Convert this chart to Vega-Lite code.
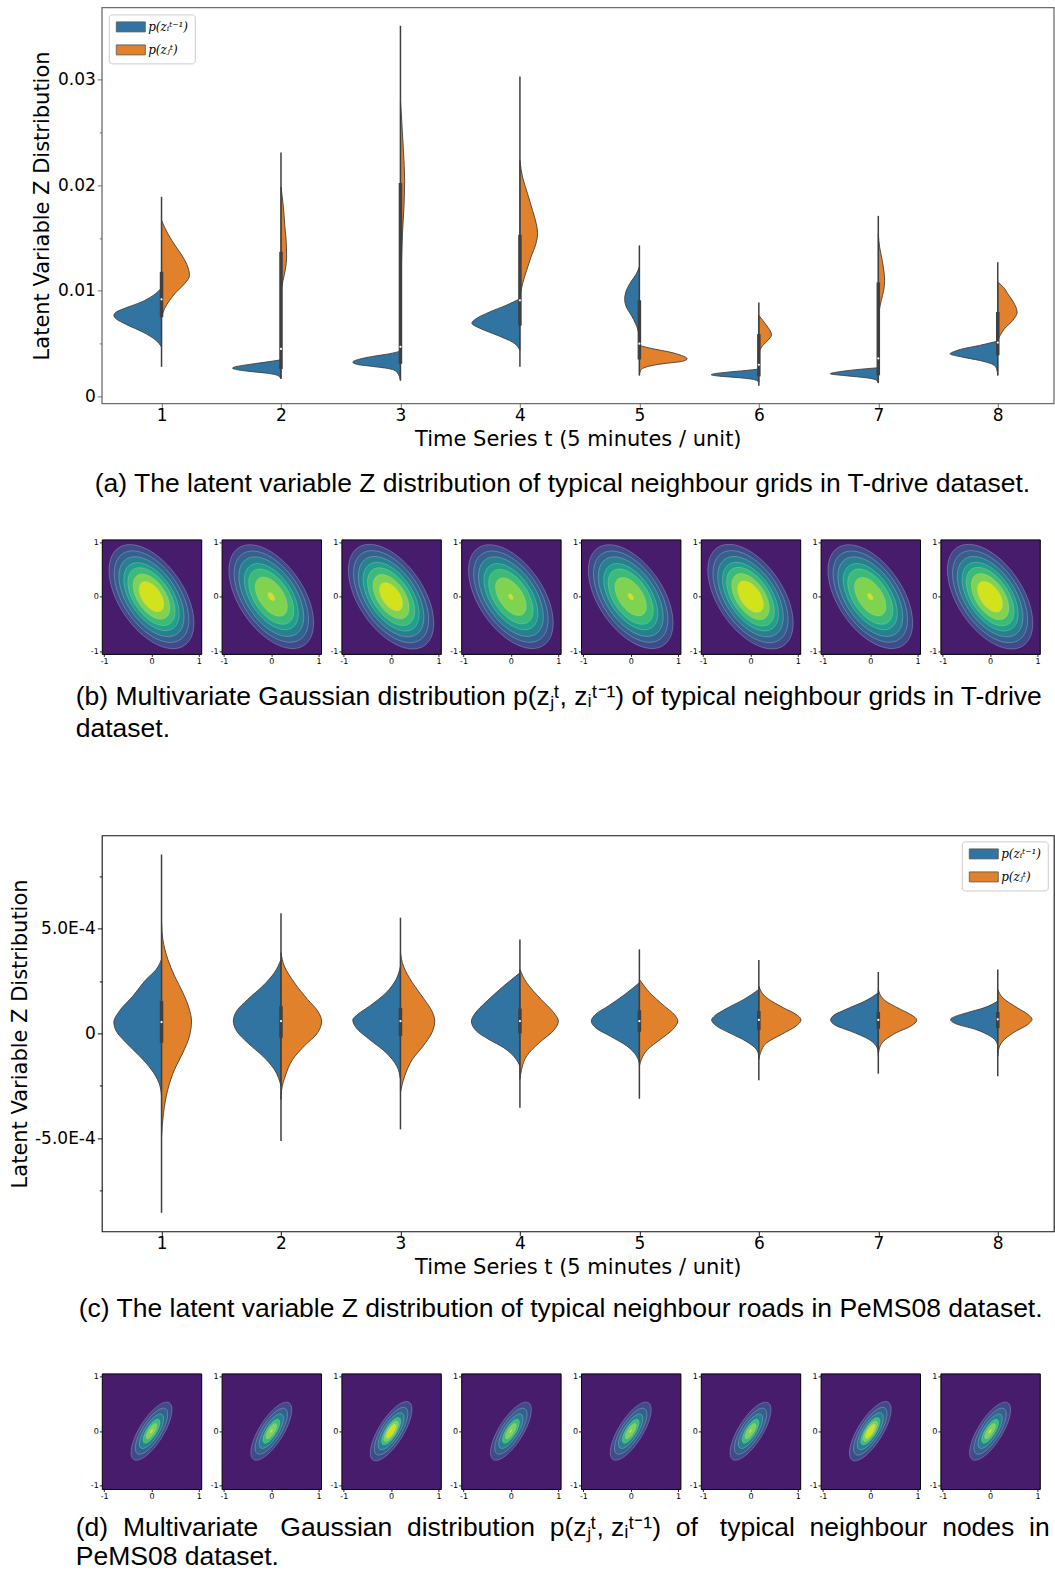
{
"$schema": "https://vega.github.io/schema/vega-lite/v6.json",
"background": "white",
"padding": {"left": 8.8, "top": 6.4, "right": 0, "bottom": 0},
"spacing": 0,
"bounds": "flush",
"config": {
  "view": {"stroke": null},
  "font": "DejaVu Sans",
  "axis": {"grid": false, "domain": false, "labelColor": "black", "titleColor": "black", "tickColor": "#222", "labelFont": "DejaVu Sans", "titleFont": "DejaVu Sans", "titleFontWeight": "normal"}
},
"resolve": {
  "scale": {"x": "independent", "y": "independent", "color": "independent", "fill": "independent", "size": "independent"},
  "axis": {"x": "independent", "y": "independent"},
  "legend": {"color": "independent"}
},
"datasets": {
  "va": [
    {"t":1,"s":"i","z":0.0103,"e":1},{"t":1,"s":"i","z":0.00956,"e":0.93},{"t":1,"s":"i","z":0.00893,"e":0.83},{"t":1,"s":"i","z":0.00846,"e":0.72},{"t":1,"s":"i","z":0.00798,"e":0.62},{"t":1,"s":"i","z":0.00767,"e":0.601},{"t":1,"s":"i","z":0.00735,"e":0.62},{"t":1,"s":"i","z":0.00682,"e":0.704},{"t":1,"s":"i","z":0.00609,"e":0.844},{"t":1,"s":"i","z":0.0053,"e":0.955},{"t":1,"s":"i","z":0.00467,"e":1},
    {"t":1,"s":"j","z":0.01667,"e":1},{"t":1,"s":"j","z":0.0154,"e":1.053},{"t":1,"s":"j","z":0.01414,"e":1.123},{"t":1,"s":"j","z":0.01319,"e":1.18},{"t":1,"s":"j","z":0.01225,"e":1.22},{"t":1,"s":"j","z":0.01146,"e":1.234},{"t":1,"s":"j","z":0.01067,"e":1.193},{"t":1,"s":"j","z":0.00988,"e":1.123},{"t":1,"s":"j","z":0.00909,"e":1.067},{"t":1,"s":"j","z":0.0083,"e":1.025},{"t":1,"s":"j","z":0.0075,"e":1},
    {"t":2,"s":"i","z":0.00347,"e":2},{"t":2,"s":"i","z":0.00325,"e":1.874},{"t":2,"s":"i","z":0.00303,"e":1.735},{"t":2,"s":"i","z":0.00278,"e":1.61},{"t":2,"s":"i","z":0.00268,"e":1.595},{"t":2,"s":"i","z":0.00259,"e":1.61},{"t":2,"s":"i","z":0.00237,"e":1.735},{"t":2,"s":"i","z":0.00221,"e":1.874},{"t":2,"s":"i","z":0.00199,"e":1.972},{"t":2,"s":"i","z":0.00167,"e":2},
    {"t":2,"s":"j","z":0.01982,"e":2},{"t":2,"s":"j","z":0.01793,"e":2.02},{"t":2,"s":"j","z":0.01603,"e":2.033},{"t":2,"s":"j","z":0.01446,"e":2.045},{"t":2,"s":"j","z":0.01319,"e":2.047},{"t":2,"s":"j","z":0.01193,"e":2.035},{"t":2,"s":"j","z":0.01098,"e":2.017},{"t":2,"s":"j","z":0.01004,"e":2},
    {"t":3,"s":"i","z":0.00429,"e":3},{"t":3,"s":"i","z":0.00404,"e":2.908},{"t":3,"s":"i","z":0.00379,"e":2.768},{"t":3,"s":"i","z":0.00353,"e":2.657},{"t":3,"s":"i","z":0.00325,"e":2.601},{"t":3,"s":"i","z":0.00303,"e":2.64},{"t":3,"s":"i","z":0.00284,"e":2.768},{"t":3,"s":"i","z":0.00262,"e":2.908},{"t":3,"s":"i","z":0.0023,"e":2.97},{"t":3,"s":"i","z":0.00152,"e":3},
    {"t":3,"s":"j","z":0.02803,"e":3},{"t":3,"s":"j","z":0.02585,"e":3.012},{"t":3,"s":"j","z":0.0233,"e":3.025},{"t":3,"s":"j","z":0.02045,"e":3.035},{"t":3,"s":"j","z":0.01809,"e":3.03},{"t":3,"s":"j","z":0.01544,"e":3.017},{"t":3,"s":"j","z":0.01193,"e":3.007},{"t":3,"s":"j","z":0.0072,"e":3.003},{"t":3,"s":"j","z":0.00436,"e":3},
    {"t":4,"s":"i","z":0.00925,"e":4},{"t":4,"s":"i","z":0.00862,"e":3.883},{"t":4,"s":"i","z":0.00798,"e":3.743},{"t":4,"s":"i","z":0.00735,"e":3.632},{"t":4,"s":"i","z":0.00694,"e":3.598},{"t":4,"s":"i","z":0.00641,"e":3.674},{"t":4,"s":"i","z":0.00578,"e":3.813},{"t":4,"s":"i","z":0.00514,"e":3.939},{"t":4,"s":"i","z":0.00436,"e":4},
    {"t":4,"s":"j","z":0.02235,"e":4},{"t":4,"s":"j","z":0.02077,"e":4.022},{"t":4,"s":"j","z":0.0192,"e":4.064},{"t":4,"s":"j","z":0.01761,"e":4.106},{"t":4,"s":"j","z":0.01635,"e":4.137},{"t":4,"s":"j","z":0.01541,"e":4.148},{"t":4,"s":"j","z":0.01446,"e":4.134},{"t":4,"s":"j","z":0.01319,"e":4.092},{"t":4,"s":"j","z":0.01193,"e":4.056},{"t":4,"s":"j","z":0.01067,"e":4.022},{"t":4,"s":"j","z":0.0094,"e":4},
    {"t":5,"s":"i","z":0.01225,"e":5},{"t":5,"s":"i","z":0.01162,"e":4.975},{"t":5,"s":"i","z":0.01067,"e":4.919},{"t":5,"s":"i","z":0.00988,"e":4.886},{"t":5,"s":"i","z":0.00919,"e":4.877},{"t":5,"s":"i","z":0.00846,"e":4.891},{"t":5,"s":"i","z":0.00767,"e":4.933},{"t":5,"s":"i","z":0.00688,"e":4.969},{"t":5,"s":"i","z":0.00593,"e":4.995},{"t":5,"s":"i","z":0.005,"e":5},
    {"t":5,"s":"j","z":0.00483,"e":5},{"t":5,"s":"j","z":0.00451,"e":5.114},{"t":5,"s":"j","z":0.0042,"e":5.254},{"t":5,"s":"j","z":0.00388,"e":5.352},{"t":5,"s":"j","z":0.00357,"e":5.4},{"t":5,"s":"j","z":0.00331,"e":5.352},{"t":5,"s":"j","z":0.0031,"e":5.198},{"t":5,"s":"j","z":0.00284,"e":5.073},{"t":5,"s":"j","z":0.00246,"e":5.01},{"t":5,"s":"j","z":0.00199,"e":5},
    {"t":6,"s":"i","z":0.00259,"e":6},{"t":6,"s":"i","z":0.00246,"e":5.894},{"t":6,"s":"i","z":0.0023,"e":5.74},{"t":6,"s":"i","z":0.00215,"e":5.629},{"t":6,"s":"i","z":0.00205,"e":5.601},{"t":6,"s":"i","z":0.00192,"e":5.67},{"t":6,"s":"i","z":0.00177,"e":5.838},{"t":6,"s":"i","z":0.00158,"e":5.964},{"t":6,"s":"i","z":0.00135,"e":6},
    {"t":6,"s":"j","z":0.00767,"e":6},{"t":6,"s":"j","z":0.0072,"e":6.033},{"t":6,"s":"j","z":0.00656,"e":6.075},{"t":6,"s":"j","z":0.00584,"e":6.106},{"t":6,"s":"j","z":0.0053,"e":6.075},{"t":6,"s":"j","z":0.00483,"e":6.033},{"t":6,"s":"j","z":0.00436,"e":6.008},{"t":6,"s":"j","z":0.00404,"e":6},
    {"t":7,"s":"i","z":0.00272,"e":7},{"t":7,"s":"i","z":0.00253,"e":6.813},{"t":7,"s":"i","z":0.00234,"e":6.674},{"t":7,"s":"i","z":0.00215,"e":6.598},{"t":7,"s":"i","z":0.00196,"e":6.73},{"t":7,"s":"i","z":0.00177,"e":6.897},{"t":7,"s":"i","z":0.00152,"e":6.986},{"t":7,"s":"i","z":0.00126,"e":7},
    {"t":7,"s":"j","z":0.01541,"e":7},{"t":7,"s":"j","z":0.01414,"e":7.011},{"t":7,"s":"j","z":0.01288,"e":7.033},{"t":7,"s":"j","z":0.01177,"e":7.048},{"t":7,"s":"j","z":0.01098,"e":7.053},{"t":7,"s":"j","z":0.01004,"e":7.045},{"t":7,"s":"j","z":0.00909,"e":7.025},{"t":7,"s":"j","z":0.00814,"e":7.008},{"t":7,"s":"j","z":0.0072,"e":7},
    {"t":8,"s":"i","z":0.00524,"e":8},{"t":8,"s":"i","z":0.00483,"e":7.847},{"t":8,"s":"i","z":0.00451,"e":7.707},{"t":8,"s":"i","z":0.00426,"e":7.637},{"t":8,"s":"i","z":0.00404,"e":7.601},{"t":8,"s":"i","z":0.00372,"e":7.707},{"t":8,"s":"i","z":0.00341,"e":7.847},{"t":8,"s":"i","z":0.00303,"e":7.958},{"t":8,"s":"i","z":0.00262,"e":7.99},{"t":8,"s":"i","z":0.00199,"e":8},
    {"t":8,"s":"j","z":0.01082,"e":8},{"t":8,"s":"j","z":0.01035,"e":8.047},{"t":8,"s":"j","z":0.00972,"e":8.084},{"t":8,"s":"j","z":0.00893,"e":8.131},{"t":8,"s":"j","z":0.00798,"e":8.162},{"t":8,"s":"j","z":0.0072,"e":8.126},{"t":8,"s":"j","z":0.00641,"e":8.056},{"t":8,"s":"j","z":0.00578,"e":8.02},{"t":8,"s":"j","z":0.0053,"e":8}
  ],
  "ba": [
    {"t":1,"lo":0.0028,"hi":0.0189,"q1":0.0075,"q3":0.0118,"md":0.0092},
    {"t":2,"lo":0.0017,"hi":0.0231,"q1":0.0026,"q3":0.0137,"md":0.0045},
    {"t":3,"lo":0.0015,"hi":0.0351,"q1":0.0031,"q3":0.0202,"md":0.0047},
    {"t":4,"lo":0.0028,"hi":0.0303,"q1":0.0067,"q3":0.0153,"md":0.0091},
    {"t":5,"lo":0.002,"hi":0.0143,"q1":0.0035,"q3":0.0091,"md":0.005},
    {"t":6,"lo":0.001,"hi":0.0089,"q1":0.0019,"q3":0.0059,"md":0.003},
    {"t":7,"lo":0.0013,"hi":0.0171,"q1":0.002,"q3":0.0108,"md":0.0036},
    {"t":8,"lo":0.002,"hi":0.0127,"q1":0.0039,"q3":0.008,"md":0.0051}
  ],
  "vc": [
    {"t":1,"s":"i","z":0.000353,"e":1},{"t":1,"s":"i","z":0.000305,"e":0.955},{"t":1,"s":"i","z":0.000258,"e":0.872},{"t":1,"s":"i","z":0.000178,"e":0.76},{"t":1,"s":"i","z":0.000107,"e":0.648},{"t":1,"s":"i","z":0.000054,"e":0.601},{"t":1,"s":"i","z":0.000011,"e":0.621},{"t":1,"s":"i","z":-0.000045,"e":0.704},{"t":1,"s":"i","z":-0.000108,"e":0.816},{"t":1,"s":"i","z":-0.000172,"e":0.914},{"t":1,"s":"i","z":-0.000235,"e":0.978},{"t":1,"s":"i","z":-0.000299,"e":1},
    {"t":1,"s":"j","z":0.000528,"e":1},{"t":1,"s":"j","z":0.000448,"e":1.011},{"t":1,"s":"j","z":0.000353,"e":1.053},{"t":1,"s":"j","z":0.000274,"e":1.109},{"t":1,"s":"j","z":0.000194,"e":1.179},{"t":1,"s":"j","z":0.000122,"e":1.229},{"t":1,"s":"j","z":0.000059,"e":1.251},{"t":1,"s":"j","z":-0.000013,"e":1.234},{"t":1,"s":"j","z":-0.000092,"e":1.179},{"t":1,"s":"j","z":-0.000172,"e":1.109},{"t":1,"s":"j","z":-0.000267,"e":1.053},{"t":1,"s":"j","z":-0.000378,"e":1.017},{"t":1,"s":"j","z":-0.00049,"e":1},
    {"t":2,"s":"i","z":0.000353,"e":2},{"t":2,"s":"i","z":0.000289,"e":1.944},{"t":2,"s":"i","z":0.000226,"e":1.847},{"t":2,"s":"i","z":0.000162,"e":1.721},{"t":2,"s":"i","z":0.000107,"e":1.629},{"t":2,"s":"i","z":0.000059,"e":1.601},{"t":2,"s":"i","z":0.000011,"e":1.629},{"t":2,"s":"i","z":-0.000045,"e":1.721},{"t":2,"s":"i","z":-0.000108,"e":1.847},{"t":2,"s":"i","z":-0.000172,"e":1.944},{"t":2,"s":"i","z":-0.000251,"e":2},
    {"t":2,"s":"j","z":0.000385,"e":2},{"t":2,"s":"j","z":0.000321,"e":2.028},{"t":2,"s":"j","z":0.000242,"e":2.112},{"t":2,"s":"j","z":0.000162,"e":2.223},{"t":2,"s":"j","z":0.000107,"e":2.307},{"t":2,"s":"j","z":0.000059,"e":2.34},{"t":2,"s":"j","z":0.000003,"e":2.307},{"t":2,"s":"j","z":-0.00006,"e":2.195},{"t":2,"s":"j","z":-0.000124,"e":2.098},{"t":2,"s":"j","z":-0.000204,"e":2.036},{"t":2,"s":"j","z":-0.000267,"e":2.006},{"t":2,"s":"j","z":-0.000315,"e":2},
    {"t":3,"s":"i","z":0.000321,"e":3},{"t":3,"s":"i","z":0.000258,"e":2.964},{"t":3,"s":"i","z":0.000194,"e":2.88},{"t":3,"s":"i","z":0.00013,"e":2.741},{"t":3,"s":"i","z":0.000091,"e":2.643},{"t":3,"s":"i","z":0.000064,"e":2.601},{"t":3,"s":"i","z":0.000027,"e":2.629},{"t":3,"s":"i","z":-0.000029,"e":2.741},{"t":3,"s":"i","z":-0.000092,"e":2.88},{"t":3,"s":"i","z":-0.000156,"e":2.969},{"t":3,"s":"i","z":-0.000219,"e":3},
    {"t":3,"s":"j","z":0.000385,"e":3},{"t":3,"s":"j","z":0.000321,"e":3.025},{"t":3,"s":"j","z":0.000242,"e":3.1},{"t":3,"s":"j","z":0.000162,"e":3.2},{"t":3,"s":"j","z":0.000107,"e":3.263},{"t":3,"s":"j","z":0.000059,"e":3.287},{"t":3,"s":"j","z":0.000003,"e":3.263},{"t":3,"s":"j","z":-0.00006,"e":3.19},{"t":3,"s":"j","z":-0.000124,"e":3.1},{"t":3,"s":"j","z":-0.000204,"e":3.035},{"t":3,"s":"j","z":-0.000283,"e":3},
    {"t":4,"s":"i","z":0.000289,"e":4},{"t":4,"s":"i","z":0.000226,"e":3.864},{"t":4,"s":"i","z":0.000154,"e":3.724},{"t":4,"s":"i","z":0.000091,"e":3.619},{"t":4,"s":"i","z":0.000059,"e":3.594},{"t":4,"s":"i","z":0.000011,"e":3.636},{"t":4,"s":"i","z":-0.000029,"e":3.741},{"t":4,"s":"i","z":-0.000068,"e":3.864},{"t":4,"s":"i","z":-0.000124,"e":3.969},{"t":4,"s":"i","z":-0.000156,"e":4},
    {"t":4,"s":"j","z":0.000305,"e":4},{"t":4,"s":"j","z":0.000242,"e":4.056},{"t":4,"s":"j","z":0.000162,"e":4.178},{"t":4,"s":"j","z":0.000099,"e":4.283},{"t":4,"s":"j","z":0.000059,"e":4.322},{"t":4,"s":"j","z":0.000019,"e":4.29},{"t":4,"s":"j","z":-0.000045,"e":4.161},{"t":4,"s":"j","z":-0.000108,"e":4.056},{"t":4,"s":"j","z":-0.000172,"e":4.014},{"t":4,"s":"j","z":-0.000219,"e":4},
    {"t":5,"s":"i","z":0.000242,"e":5},{"t":5,"s":"i","z":0.000186,"e":4.878},{"t":5,"s":"i","z":0.00013,"e":4.738},{"t":5,"s":"i","z":0.000091,"e":4.633},{"t":5,"s":"i","z":0.000059,"e":4.598},{"t":5,"s":"i","z":0.000027,"e":4.633},{"t":5,"s":"i","z":-0.000013,"e":4.755},{"t":5,"s":"i","z":-0.00006,"e":4.895},{"t":5,"s":"i","z":-0.000108,"e":4.976},{"t":5,"s":"i","z":-0.00014,"e":5},
    {"t":5,"s":"j","z":0.000258,"e":5},{"t":5,"s":"j","z":0.000194,"e":5.087},{"t":5,"s":"j","z":0.00013,"e":5.21},{"t":5,"s":"j","z":0.000091,"e":5.29},{"t":5,"s":"j","z":0.000059,"e":5.322},{"t":5,"s":"j","z":0.000019,"e":5.28},{"t":5,"s":"j","z":-0.000029,"e":5.175},{"t":5,"s":"j","z":-0.000076,"e":5.07},{"t":5,"s":"j","z":-0.000124,"e":5.017},{"t":5,"s":"j","z":-0.000156,"e":5},
    {"t":6,"s":"i","z":0.00021,"e":6},{"t":6,"s":"i","z":0.000162,"e":5.874},{"t":6,"s":"i","z":0.000115,"e":5.717},{"t":6,"s":"i","z":0.000083,"e":5.629},{"t":6,"s":"i","z":0.000064,"e":5.605},{"t":6,"s":"i","z":0.000035,"e":5.647},{"t":6,"s":"i","z":0.000003,"e":5.752},{"t":6,"s":"i","z":-0.000037,"e":5.892},{"t":6,"s":"i","z":-0.000076,"e":5.979},{"t":6,"s":"i","z":-0.000108,"e":6},
    {"t":6,"s":"j","z":0.000226,"e":6},{"t":6,"s":"j","z":0.000178,"e":6.049},{"t":6,"s":"j","z":0.000122,"e":6.206},{"t":6,"s":"j","z":0.000091,"e":6.311},{"t":6,"s":"j","z":0.000064,"e":6.353},{"t":6,"s":"j","z":0.000035,"e":6.311},{"t":6,"s":"j","z":-0.000005,"e":6.189},{"t":6,"s":"j","z":-0.000045,"e":6.066},{"t":6,"s":"j","z":-0.000092,"e":6.014},{"t":6,"s":"j","z":-0.000124,"e":6},
    {"t":7,"s":"i","z":0.000194,"e":7},{"t":7,"s":"i","z":0.000154,"e":6.888},{"t":7,"s":"i","z":0.000115,"e":6.731},{"t":7,"s":"i","z":0.000086,"e":6.626},{"t":7,"s":"i","z":0.000064,"e":6.601},{"t":7,"s":"i","z":0.000038,"e":6.643},{"t":7,"s":"i","z":0.000011,"e":6.766},{"t":7,"s":"i","z":-0.000029,"e":6.923},{"t":7,"s":"i","z":-0.000068,"e":6.99},{"t":7,"s":"i","z":-0.000092,"e":7},
    {"t":7,"s":"j","z":0.00021,"e":7},{"t":7,"s":"j","z":0.000162,"e":7.045},{"t":7,"s":"j","z":0.000115,"e":7.185},{"t":7,"s":"j","z":0.000086,"e":7.283},{"t":7,"s":"j","z":0.000064,"e":7.322},{"t":7,"s":"j","z":0.000035,"e":7.273},{"t":7,"s":"j","z":0.000003,"e":7.15},{"t":7,"s":"j","z":-0.000037,"e":7.045},{"t":7,"s":"j","z":-0.000076,"e":7.007},{"t":7,"s":"j","z":-0.000108,"e":7},
    {"t":8,"s":"i","z":0.000154,"e":8},{"t":8,"s":"i","z":0.000122,"e":7.885},{"t":8,"s":"i","z":0.000099,"e":7.745},{"t":8,"s":"i","z":0.00008,"e":7.64},{"t":8,"s":"i","z":0.000067,"e":7.605},{"t":8,"s":"i","z":0.000048,"e":7.64},{"t":8,"s":"i","z":0.000019,"e":7.815},{"t":8,"s":"i","z":-0.000013,"e":7.937},{"t":8,"s":"i","z":-0.000045,"e":7.993},{"t":8,"s":"i","z":-0.000068,"e":8},
    {"t":8,"s":"j","z":0.00021,"e":8},{"t":8,"s":"j","z":0.00017,"e":8.042},{"t":8,"s":"j","z":0.000122,"e":8.164},{"t":8,"s":"j","z":0.000091,"e":8.252},{"t":8,"s":"j","z":0.000067,"e":8.287},{"t":8,"s":"j","z":0.000043,"e":8.252},{"t":8,"s":"j","z":0.000003,"e":8.129},{"t":8,"s":"j","z":-0.000037,"e":8.042},{"t":8,"s":"j","z":-0.000076,"e":8.007},{"t":8,"s":"j","z":-0.000108,"e":8}
  ],
  "bc": [
    {"t":1,"lo":-0.000856,"hi":0.000854,"q1":-0.000045,"q3":0.000154,"md":0.000054},
    {"t":2,"lo":-0.000514,"hi":0.000573,"q1":-0.000021,"q3":0.00013,"md":0.000059},
    {"t":3,"lo":-0.000458,"hi":0.000552,"q1":-0.000013,"q3":0.000122,"md":0.000059},
    {"t":4,"lo":-0.000355,"hi":0.000448,"q1":0,"q3":0.000118,"md":0.000059},
    {"t":5,"lo":-0.000312,"hi":0.000401,"q1":0.000008,"q3":0.000111,"md":0.000059},
    {"t":6,"lo":-0.000223,"hi":0.00035,"q1":0.000016,"q3":0.000107,"md":0.000064},
    {"t":7,"lo":-0.000192,"hi":0.000293,"q1":0.000022,"q3":0.000102,"md":0.000064},
    {"t":8,"lo":-0.000204,"hi":0.000305,"q1":0.000025,"q3":0.000102,"md":0.000067}
  ],
  "gb": [
    {"p":1,"lv":1,"r":1.243,"mx":0,"my":0},{"p":1,"lv":2,"r":1.093,"mx":0,"my":0},{"p":1,"lv":3,"r":0.954,"mx":0,"my":0},{"p":1,"lv":4,"r":0.81,"mx":0,"my":0},{"p":1,"lv":5,"r":0.691,"mx":0,"my":0},{"p":1,"lv":6,"r":0.539,"mx":0,"my":0},{"p":1,"lv":7,"r":0.362,"mx":0,"my":0},
    {"p":2,"lv":1,"r":1.24,"mx":0,"my":0},{"p":2,"lv":2,"r":1.09,"mx":0,"my":0},{"p":2,"lv":3,"r":0.95,"mx":0,"my":0},{"p":2,"lv":4,"r":0.79,"mx":0,"my":0},{"p":2,"lv":5,"r":0.66,"mx":0,"my":0},{"p":2,"lv":6,"r":0.47,"mx":0,"my":0},{"p":2,"lv":7,"r":0.1,"mx":0,"my":0},
    {"p":3,"lv":1,"r":1.25,"mx":0,"my":0},{"p":3,"lv":2,"r":1.1,"mx":0,"my":0},{"p":3,"lv":3,"r":0.96,"mx":0,"my":0},{"p":3,"lv":4,"r":0.82,"mx":0,"my":0},{"p":3,"lv":5,"r":0.69,"mx":0,"my":0},{"p":3,"lv":6,"r":0.53,"mx":0,"my":0},{"p":3,"lv":7,"r":0.34,"mx":0,"my":0},
    {"p":4,"lv":1,"r":1.24,"mx":0,"my":0},{"p":4,"lv":2,"r":1.09,"mx":0,"my":0},{"p":4,"lv":3,"r":0.95,"mx":0,"my":0},{"p":4,"lv":4,"r":0.79,"mx":0,"my":0},{"p":4,"lv":5,"r":0.65,"mx":0,"my":0},{"p":4,"lv":6,"r":0.45,"mx":0,"my":0},{"p":4,"lv":7,"r":0.07,"mx":0,"my":0},
    {"p":5,"lv":1,"r":1.24,"mx":0,"my":0},{"p":5,"lv":2,"r":1.09,"mx":0,"my":0},{"p":5,"lv":3,"r":0.95,"mx":0,"my":0},{"p":5,"lv":4,"r":0.79,"mx":0,"my":0},{"p":5,"lv":5,"r":0.66,"mx":0,"my":0},{"p":5,"lv":6,"r":0.46,"mx":0,"my":0},{"p":5,"lv":7,"r":0.08,"mx":0,"my":0},
    {"p":6,"lv":1,"r":1.25,"mx":0,"my":0},{"p":6,"lv":2,"r":1.1,"mx":0,"my":0},{"p":6,"lv":3,"r":0.96,"mx":0,"my":0},{"p":6,"lv":4,"r":0.82,"mx":0,"my":0},{"p":6,"lv":5,"r":0.7,"mx":0,"my":0},{"p":6,"lv":6,"r":0.55,"mx":0,"my":0},{"p":6,"lv":7,"r":0.38,"mx":0,"my":0},
    {"p":7,"lv":1,"r":1.24,"mx":0,"my":0},{"p":7,"lv":2,"r":1.09,"mx":0,"my":0},{"p":7,"lv":3,"r":0.95,"mx":0,"my":0},{"p":7,"lv":4,"r":0.79,"mx":0,"my":0},{"p":7,"lv":5,"r":0.66,"mx":0,"my":0},{"p":7,"lv":6,"r":0.46,"mx":0,"my":0},{"p":7,"lv":7,"r":0.08,"mx":0,"my":0},
    {"p":8,"lv":1,"r":1.25,"mx":0,"my":0},{"p":8,"lv":2,"r":1.1,"mx":0,"my":0},{"p":8,"lv":3,"r":0.96,"mx":0,"my":0},{"p":8,"lv":4,"r":0.82,"mx":0,"my":0},{"p":8,"lv":5,"r":0.7,"mx":0,"my":0},{"p":8,"lv":6,"r":0.55,"mx":0,"my":0},{"p":8,"lv":7,"r":0.37,"mx":0,"my":0}
  ],
  "gd": [
    {"p":1,"lv":1,"r":0.706,"mx":0,"my":0},{"p":1,"lv":2,"r":0.56,"mx":0,"my":0},{"p":1,"lv":3,"r":0.42,"mx":0,"my":0},{"p":1,"lv":5,"r":0.29,"mx":0,"my":0},{"p":1,"lv":6,"r":0.186,"mx":0,"my":0},{"p":1,"lv":7,"r":0.05,"mx":0,"my":0},
    {"p":2,"lv":1,"r":0.706,"mx":0,"my":0},{"p":2,"lv":2,"r":0.56,"mx":0,"my":0},{"p":2,"lv":3,"r":0.42,"mx":0,"my":0},{"p":2,"lv":5,"r":0.29,"mx":0,"my":0},{"p":2,"lv":6,"r":0.186,"mx":0,"my":0},{"p":2,"lv":7,"r":0.04,"mx":0,"my":0},
    {"p":3,"lv":1,"r":0.72,"mx":0,"my":0},{"p":3,"lv":2,"r":0.58,"mx":0,"my":0},{"p":3,"lv":3,"r":0.45,"mx":0,"my":0},{"p":3,"lv":5,"r":0.33,"mx":0,"my":0},{"p":3,"lv":6,"r":0.25,"mx":0,"my":0},{"p":3,"lv":7,"r":0.17,"mx":0,"my":0},
    {"p":4,"lv":1,"r":0.706,"mx":0,"my":0},{"p":4,"lv":2,"r":0.56,"mx":0,"my":0},{"p":4,"lv":3,"r":0.42,"mx":0,"my":0},{"p":4,"lv":5,"r":0.29,"mx":0,"my":0},{"p":4,"lv":6,"r":0.186,"mx":0,"my":0},{"p":4,"lv":7,"r":0.04,"mx":0,"my":0},
    {"p":5,"lv":1,"r":0.706,"mx":0,"my":0},{"p":5,"lv":2,"r":0.56,"mx":0,"my":0},{"p":5,"lv":3,"r":0.42,"mx":0,"my":0},{"p":5,"lv":5,"r":0.29,"mx":0,"my":0},{"p":5,"lv":6,"r":0.186,"mx":0,"my":0},{"p":5,"lv":7,"r":0.04,"mx":0,"my":0},
    {"p":6,"lv":1,"r":0.706,"mx":0,"my":0},{"p":6,"lv":2,"r":0.56,"mx":0,"my":0},{"p":6,"lv":3,"r":0.42,"mx":0,"my":0},{"p":6,"lv":5,"r":0.29,"mx":0,"my":0},{"p":6,"lv":6,"r":0.186,"mx":0,"my":0},{"p":6,"lv":7,"r":0.04,"mx":0,"my":0},
    {"p":7,"lv":1,"r":0.72,"mx":0,"my":0},{"p":7,"lv":2,"r":0.58,"mx":0,"my":0},{"p":7,"lv":3,"r":0.45,"mx":0,"my":0},{"p":7,"lv":5,"r":0.33,"mx":0,"my":0},{"p":7,"lv":6,"r":0.25,"mx":0,"my":0},{"p":7,"lv":7,"r":0.17,"mx":0,"my":0},
    {"p":8,"lv":1,"r":0.706,"mx":0,"my":0},{"p":8,"lv":2,"r":0.56,"mx":0,"my":0},{"p":8,"lv":3,"r":0.42,"mx":0,"my":0},{"p":8,"lv":5,"r":0.29,"mx":0,"my":0},{"p":8,"lv":6,"r":0.186,"mx":0,"my":0},{"p":8,"lv":7,"r":0.05,"mx":0,"my":0}
  ]
},
"vconcat": [
  {
    "width": 952, "height": 396,
    "view": {"stroke": "#6e6e6e", "strokeWidth": 1.3},
    "title": {"text": "(a) The latent variable Z distribution of typical neighbour grids in T-drive dataset.", "orient": "bottom", "anchor": "start", "frame": "group", "offset": 43, "dx": -7, "baseline": "alphabetic", "font": "Liberation Sans", "fontSize": 26.5, "fontWeight": "normal", "color": "black"},
    "layer": [
      {
        "data": {"name": "va"},
        "mark": {"type": "area", "orient": "horizontal", "interpolate": "monotone", "stroke": "#3f3f3f", "strokeWidth": 0.9, "fillOpacity": 1},
        "encoding": {
          "y": {"field": "z", "type": "quantitative", "title": "Latent Variable Z Distribution",
                "scale": {"domain": [-0.00066, 0.03684], "nice": false, "zero": false},
                "axis": {"values": [0, 0.005, 0.01, 0.015, 0.02, 0.025, 0.03],
                         "labelExpr": "round(datum.value*1000) % 10 != 0 ? '' : (datum.value == 0 ? '0' : format(datum.value, '.2f'))",
                         "tickSize": {"condition": {"test": "round(datum.value*1000) % 10 != 0", "value": 2.5}, "value": 4.5},
                         "labelFontSize": 17, "labelPadding": 2, "titleFontSize": 21, "titlePadding": 4.5, "tickColor": "#6e6e6e"}},
          "x": {"field": "e", "type": "quantitative", "title": "Time Series t (5 minutes / unit)",
                "scale": {"domain": [0.5, 8.469], "nice": false, "zero": false},
                "axis": {"values": [1,2,3,4,5,6,7,8], "format": "d", "labelFontSize": 17, "titleFontSize": 21, "tickSize": 4, "labelPadding": 0.5, "titlePadding": 4.2, "tickColor": "#6e6e6e", "labelFlush": false}},
          "x2": {"field": "t"},
          "color": {"field": "s", "type": "nominal", "scale": {"domain": ["i", "j"], "range": ["#3274a1", "#e1812c"]},
                    "legend": {"orient": "top-left", "offset": 7, "title": null, "symbolType": "M-2.9,-1H2.9V1H-2.9Z", "symbolSize": 100, "symbolStrokeColor": "#555555", "symbolStrokeWidth": 0.8, "symbolOffset": 9.5, "labelOffset": 11.4, "labelFont": "DejaVu Serif", "labelFontStyle": "italic", "labelFontSize": 12, "labelColor": "black", "padding": 6.5, "rowPadding": 9, "fillColor": "white", "strokeColor": "#cccccc", "cornerRadius": 3,
                               "labelExpr": "datum.label == 'i' ? 'p(zᵢᵗ⁻¹)' : 'p(zⱼᵗ)'"}},
          "detail": {"field": "t", "type": "nominal"}
        }
      },
      {
        "data": {"name": "ba"},
        "mark": {"type": "rule", "color": "#3f3f3f", "strokeWidth": 1.5},
        "encoding": {
          "x": {"field": "t", "type": "quantitative", "title": "Time Series t (5 minutes / unit)"},
          "y": {"field": "lo", "type": "quantitative", "title": "Latent Variable Z Distribution"},
          "y2": {"field": "hi"}
        }
      },
      {
        "data": {"name": "ba"},
        "mark": {"type": "rule", "color": "#3f3f3f", "strokeWidth": 3.5},
        "encoding": {
          "x": {"field": "t", "type": "quantitative", "title": "Time Series t (5 minutes / unit)"},
          "y": {"field": "q1", "type": "quantitative", "title": "Latent Variable Z Distribution"},
          "y2": {"field": "q3"}
        }
      },
      {
        "data": {"name": "ba"},
        "mark": {"type": "point", "filled": true, "color": "white", "size": 5, "opacity": 1},
        "encoding": {
          "x": {"field": "t", "type": "quantitative", "title": "Time Series t (5 minutes / unit)"},
          "y": {"field": "md", "type": "quantitative", "title": "Latent Variable Z Distribution"}
        }
      }
    ]
  },
  {"width": 952, "height": 136, "data": {"values": []}, "mark": "point"},
  {
    "data": {"name": "gb"},
    "title": {"text": ["(b) Multivariate Gaussian distribution p(zⱼᵗ, zᵢᵗ⁻¹) of typical neighbour grids in T-drive", "dataset."], "lineHeight": 32, "orient": "bottom", "anchor": "start", "frame": "group", "offset": 39, "dx": -26, "baseline": "alphabetic", "font": "Liberation Sans", "fontSize": 26.5, "fontWeight": "normal", "color": "black"},
    "facet": {"column": {"field": "p", "type": "ordinal", "header": {"title": null, "labels": false}}},
    "spacing": 19.8,
    "bounds": "flush",
    "resolve": {"axis": {"x": "independent", "y": "independent"}},
    "spec": {
      "width": 99.4, "height": 114.5,
      "view": {"fill": "#471c6c", "stroke": "#000000", "strokeWidth": 1},
      "mark": {"type": "point", "shape": "M-1,0A1,0.55,0,1,1,1,0A1,0.55,0,1,1,-1,0Z", "angle": 56, "filled": true, "opacity": 1, "stroke": "#c8c8e6", "strokeWidth": 0.5, "strokeOpacity": 0.6, "clip": true},
      "encoding": {
        "x": {"field": "mx", "type": "quantitative", "title": null, "scale": {"domain": [-1.05, 1.05], "nice": false, "zero": false},
              "axis": {"values": [-1, 0, 1], "labelExpr": "(datum.value < 0 ? '-' : '') + format(abs(datum.value), 'd')", "labelFontSize": 8, "tickSize": 2.5, "labelPadding": 1, "labelFlush": false, "tickColor": "#222"}},
        "y": {"field": "my", "type": "quantitative", "title": null, "scale": {"domain": [-1.05, 1.05], "nice": false, "zero": false},
              "axis": {"values": [-1, 0, 1], "labelExpr": "(datum.value < 0 ? '-' : '') + format(abs(datum.value), 'd')", "labelFontSize": 8, "tickSize": 2.5, "labelPadding": 1, "tickColor": "#222"}},
        "size": {"field": "r", "type": "quantitative", "scale": {"type": "pow", "exponent": 2, "domain": [0, 1.5], "range": [0, 20162]}, "legend": null},
        "fill": {"field": "lv", "type": "ordinal", "scale": {"domain": [1, 2, 3, 4, 5, 6, 7], "range": ["#3e4c8a", "#33638d", "#26818e", "#1fa088", "#3bbb75", "#7fd34e", "#d2e21b"]}, "legend": null},
        "order": {"field": "lv", "type": "quantitative"}
      }
    }
  },
  {"width": 952, "height": 295.3, "data": {"values": []}, "mark": "point"},
  {
    "width": 952, "height": 396,
    "view": {"stroke": "#111111", "strokeWidth": 1.1},
    "title": {"text": "(c) The latent variable Z distribution of typical neighbour roads in PeMS08 dataset.", "orient": "bottom", "anchor": "start", "frame": "group", "offset": 40, "dx": -23, "baseline": "alphabetic", "font": "Liberation Sans", "fontSize": 26.5, "fontWeight": "normal", "color": "black"},
    "layer": [
      {
        "data": {"name": "vc"},
        "mark": {"type": "area", "orient": "horizontal", "interpolate": "monotone", "stroke": "#3f3f3f", "strokeWidth": 0.9, "fillOpacity": 1},
        "encoding": {
          "y": {"field": "z", "type": "quantitative", "title": "Latent Variable Z Distribution",
                "scale": {"domain": [-0.0009447, 0.0009447], "nice": false, "zero": false},
                "axis": {"values": [-0.00075, -0.0005, -0.00025, 0, 0.00025, 0.0005, 0.00075],
                         "labelExpr": "round(abs(datum.value)*10000) % 5 != 0 ? '' : (datum.value == 0 ? '0' : (datum.value < 0 ? '-' : '') + replace(format(abs(datum.value), '.1e'), 'e', 'E'))",
                         "tickSize": {"condition": {"test": "round(abs(datum.value)*10000) % 5 != 0", "value": 2.5}, "value": 4.5},
                         "labelFontSize": 17, "labelPadding": 2, "titleFontSize": 21, "titlePadding": 4, "tickColor": "#111"}},
          "x": {"field": "e", "type": "quantitative", "title": "Time Series t (5 minutes / unit)",
                "scale": {"domain": [0.5, 8.469], "nice": false, "zero": false},
                "axis": {"values": [1,2,3,4,5,6,7,8], "format": "d", "labelFontSize": 17, "titleFontSize": 21, "tickSize": 4, "labelPadding": 0.5, "titlePadding": 4.2, "tickColor": "#111", "labelFlush": false}},
          "x2": {"field": "t"},
          "color": {"field": "s", "type": "nominal", "scale": {"domain": ["i", "j"], "range": ["#3274a1", "#e1812c"]},
                    "legend": {"orient": "top-right", "offset": 6, "title": null, "symbolType": "M-2.9,-1H2.9V1H-2.9Z", "symbolSize": 100, "symbolStrokeColor": "#555555", "symbolStrokeWidth": 0.8, "symbolOffset": 9.5, "labelOffset": 11.4, "labelFont": "DejaVu Serif", "labelFontStyle": "italic", "labelFontSize": 12, "labelColor": "black", "padding": 6.5, "rowPadding": 9, "fillColor": "white", "strokeColor": "#cccccc", "cornerRadius": 3,
                               "labelExpr": "datum.label == 'i' ? 'p(zᵢᵗ⁻¹)' : 'p(zⱼᵗ)'"}},
          "detail": {"field": "t", "type": "nominal"}
        }
      },
      {
        "data": {"name": "bc"},
        "mark": {"type": "rule", "color": "#3f3f3f", "strokeWidth": 1.5},
        "encoding": {
          "x": {"field": "t", "type": "quantitative", "title": "Time Series t (5 minutes / unit)"},
          "y": {"field": "lo", "type": "quantitative", "title": "Latent Variable Z Distribution"},
          "y2": {"field": "hi"}
        }
      },
      {
        "data": {"name": "bc"},
        "mark": {"type": "rule", "color": "#3f3f3f", "strokeWidth": 3.5},
        "encoding": {
          "x": {"field": "t", "type": "quantitative", "title": "Time Series t (5 minutes / unit)"},
          "y": {"field": "q1", "type": "quantitative", "title": "Latent Variable Z Distribution"},
          "y2": {"field": "q3"}
        }
      },
      {
        "data": {"name": "bc"},
        "mark": {"type": "point", "filled": true, "color": "white", "size": 5, "opacity": 1},
        "encoding": {
          "x": {"field": "t", "type": "quantitative", "title": "Time Series t (5 minutes / unit)"},
          "y": {"field": "md", "type": "quantitative", "title": "Latent Variable Z Distribution"}
        }
      }
    ]
  },
  {"width": 952, "height": 141.4, "data": {"values": []}, "mark": "point"},
  {
    "data": {"name": "gd"},
    "title": {"text": ["(d)\u00a0 Multivariate\u00a0\u00a0 Gaussian\u00a0 distribution\u00a0 p(zⱼᵗ, zᵢᵗ⁻¹)\u00a0 of\u00a0\u00a0 typical\u00a0 neighbour\u00a0 nodes\u00a0 in", "PeMS08 dataset."], "lineHeight": 29, "orient": "bottom", "anchor": "start", "frame": "group", "offset": 35, "dx": -26, "baseline": "alphabetic", "font": "Liberation Sans", "fontSize": 26.5, "fontWeight": "normal", "color": "black"},
    "facet": {"column": {"field": "p", "type": "ordinal", "header": {"title": null, "labels": false}}},
    "spacing": 19.8,
    "bounds": "flush",
    "resolve": {"axis": {"x": "independent", "y": "independent"}},
    "spec": {
      "width": 99.4, "height": 115.6,
      "view": {"fill": "#471c6c", "stroke": "#000000", "strokeWidth": 1},
      "mark": {"type": "point", "shape": "M-1,0A1,0.36,0,1,1,1,0A1,0.36,0,1,1,-1,0Z", "angle": 302, "filled": true, "opacity": 1, "stroke": "#c8c8e6", "strokeWidth": 0.5, "strokeOpacity": 0.6, "clip": true},
      "encoding": {
        "x": {"field": "mx", "type": "quantitative", "title": null, "scale": {"domain": [-1.05, 1.05], "nice": false, "zero": false},
              "axis": {"values": [-1, 0, 1], "labelExpr": "(datum.value < 0 ? '-' : '') + format(abs(datum.value), 'd')", "labelFontSize": 8, "tickSize": 2.5, "labelPadding": 1, "labelFlush": false, "tickColor": "#222"}},
        "y": {"field": "my", "type": "quantitative", "title": null, "scale": {"domain": [-1.06, 1.06], "nice": false, "zero": false},
              "axis": {"values": [-1, 0, 1], "labelExpr": "(datum.value < 0 ? '-' : '') + format(abs(datum.value), 'd')", "labelFontSize": 8, "tickSize": 2.5, "labelPadding": 1, "tickColor": "#222"}},
        "size": {"field": "r", "type": "quantitative", "scale": {"type": "pow", "exponent": 2, "domain": [0, 1.5], "range": [0, 20162]}, "legend": null},
        "fill": {"field": "lv", "type": "ordinal", "scale": {"domain": [1, 2, 3, 4, 5, 6, 7], "range": ["#3e4c8a", "#33638d", "#26818e", "#1fa088", "#3bbb75", "#7fd34e", "#d2e21b"]}, "legend": null},
        "order": {"field": "lv", "type": "quantitative"}
      }
    }
  }
]
}
